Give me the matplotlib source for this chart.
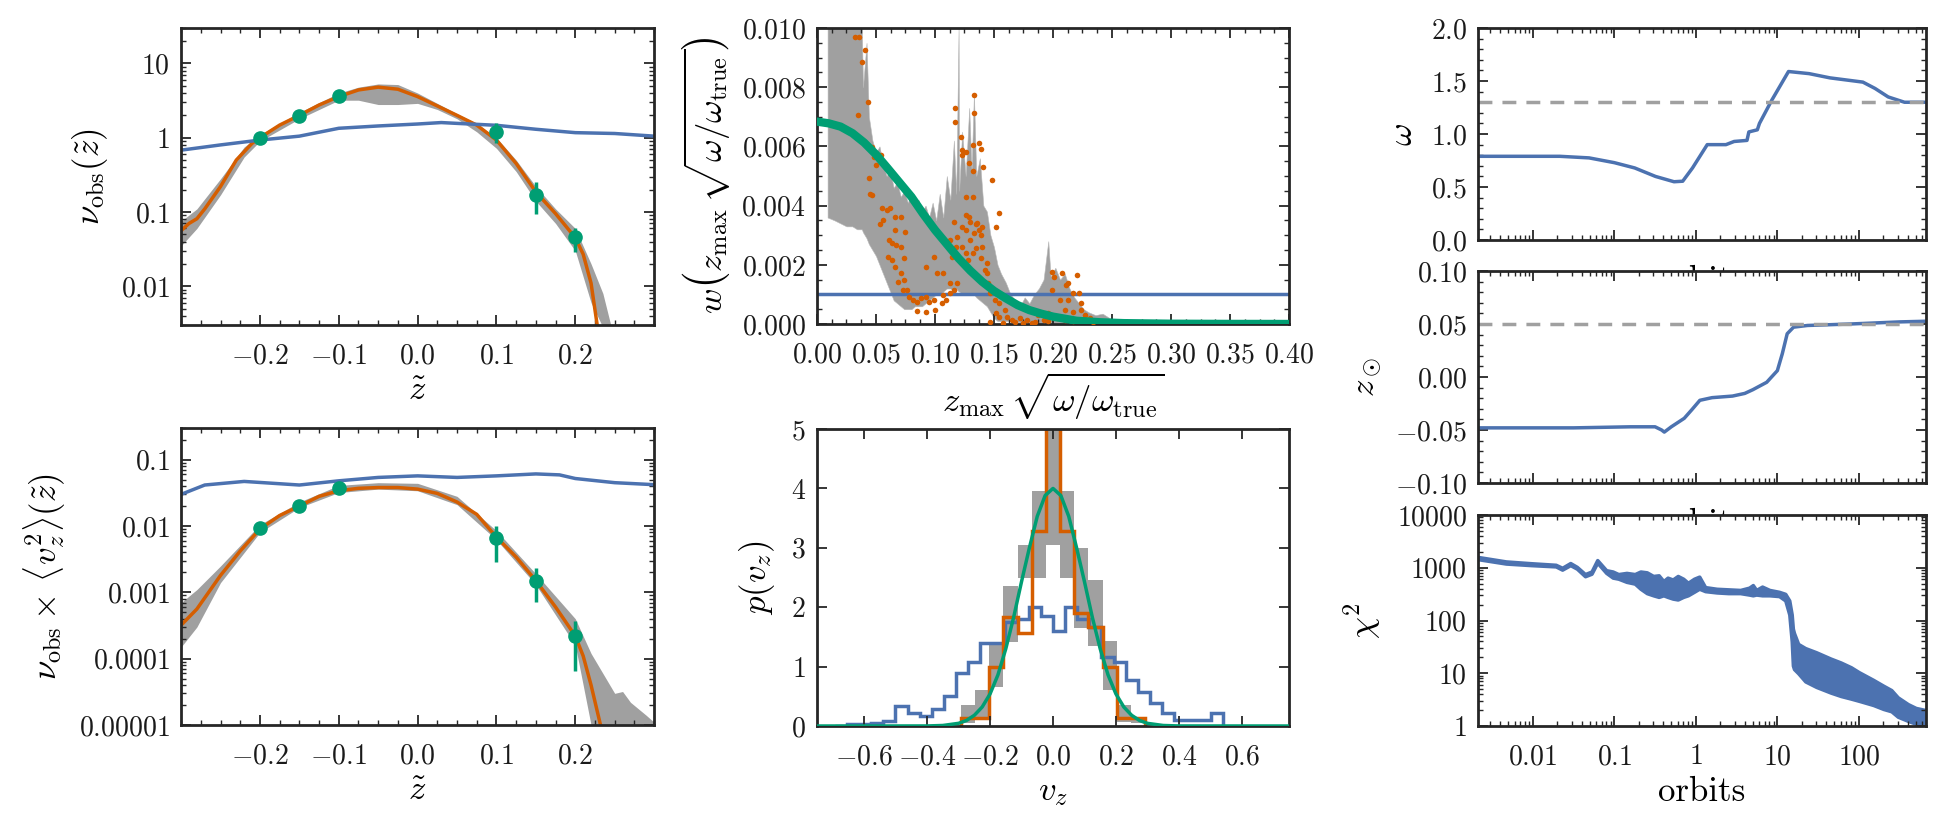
import numpy as np
import matplotlib
matplotlib.use('Agg')
import matplotlib.pyplot as plt
from matplotlib.ticker import (MultipleLocator, AutoMinorLocator, LogLocator,
                               NullFormatter, FuncFormatter)

plt.rcParams['font.family'] = 'serif'
plt.rcParams['font.serif'] = ['cmr10', 'DejaVu Serif']
plt.rcParams['mathtext.fontset'] = 'cm'
plt.rcParams['axes.unicode_minus'] = False
plt.rcParams['axes.formatter.use_mathtext'] = True

BLUE = '#4C72B0'
ORANGE = '#D55E00'
GREEN = '#009E73'
GRAY = '#A0A0A0'
INK = '#262626'

# ---- panel 1: density nu_obs(z) ----
dens_z = [-0.30, -0.29, -0.28, -0.27, -0.25, -0.23, -0.21, -0.20, -0.175, -0.15, -0.125, -0.10,
          -0.075, -0.05, -0.025, 0.0, 0.025, 0.05, 0.075, 0.10, 0.125, 0.15, 0.175, 0.20,
          0.21, 0.22, 0.228]
dens_fit = [0.056, 0.07, 0.081, 0.11, 0.22, 0.5, 0.84, 1.0, 1.48, 2.0, 2.76, 3.58,
            4.4, 4.8, 4.5, 3.58, 2.68, 2.0, 1.48, 0.93, 0.45, 0.186, 0.095, 0.045,
            0.027, 0.011, 0.0029]
dens_band_z = [-0.30, -0.28, -0.25, -0.22, -0.20, -0.15, -0.10, -0.075, -0.05, -0.025, 0.0, 0.025,
               0.05, 0.075, 0.10, 0.125, 0.15, 0.175, 0.20, 0.22, 0.235, 0.245]
dens_band_lo = [0.035, 0.06, 0.17, 0.55, 0.9, 1.8, 3.2, 3.2, 2.8, 2.8, 2.9, 2.4,
                1.8, 1.2, 0.72, 0.35, 0.14, 0.07, 0.03, 0.006, 0.0028, 0.0028]
dens_band_hi = [0.075, 0.11, 0.28, 0.75, 1.1, 2.2, 4.0, 4.8, 5.3, 5.2, 4.0, 2.9,
                2.1, 1.55, 1.0, 0.5, 0.22, 0.11, 0.06, 0.02, 0.008, 0.003]
dens_init_z = [-0.3, -0.25, -0.2, -0.15, -0.1, -0.05, 0.0, 0.03, 0.05, 0.1, 0.15, 0.2, 0.25, 0.3]
dens_init = [0.68, 0.8, 0.93, 1.05, 1.34, 1.44, 1.53, 1.6, 1.56, 1.47, 1.3, 1.17, 1.14, 1.05]
dens_obs_z = [-0.2, -0.15, -0.1, 0.1, 0.15, 0.2]
dens_obs = [1.0, 1.95, 3.7, 1.2, 0.17, 0.046]
dens_obs_lo = [0.95, 1.85, 3.5, 0.84, 0.093, 0.029]
dens_obs_hi = [1.05, 2.05, 3.9, 1.56, 0.25, 0.061]

# ---- panel 2: nu_obs * <v_z^2> ----
v2_z = [-0.30, -0.28, -0.25, -0.225, -0.20, -0.175, -0.15, -0.125, -0.10, -0.075, -0.05, -0.025,
        0.0, 0.025, 0.05, 0.075, 0.10, 0.125, 0.15, 0.175, 0.20, 0.21, 0.22, 0.232]
v2_fit = [0.00032, 0.00056, 0.0018, 0.0042, 0.009, 0.0144, 0.02, 0.028, 0.034, 0.037, 0.038, 0.038,
          0.036, 0.031, 0.023, 0.015, 0.0068, 0.0034, 0.0015, 0.0006, 0.00022, 0.00011, 0.00004, 0.00001]
v2_band_z = [-0.30, -0.28, -0.25, -0.20, -0.15, -0.10, -0.05, 0.0, 0.05, 0.10, 0.15, 0.20,
             0.22, 0.25, 0.26, 0.27, 0.29, 0.30]
v2_band_lo = [0.00015, 0.0003, 0.0014, 0.008, 0.019, 0.032, 0.036, 0.034, 0.021, 0.0062, 0.0013, 0.00016,
              0.00001, 0.00001, 0.00001, 0.00001, 0.00001, 0.00001]
v2_band_hi = [0.0007, 0.0011, 0.0025, 0.0105, 0.023, 0.041, 0.045, 0.044, 0.028, 0.0085, 0.0019, 0.0004,
              0.00012, 0.00003, 0.000032, 0.000022, 0.000014, 0.000011]
v2_init_z = [-0.3, -0.27, -0.22, -0.15, -0.1, -0.05, 0.0, 0.05, 0.1, 0.15, 0.18, 0.2, 0.25, 0.3]
v2_init = [0.030, 0.0415, 0.047, 0.0415, 0.048, 0.054, 0.057, 0.054, 0.057, 0.061, 0.059, 0.052, 0.045, 0.042]
v2_obs_z = [-0.2, -0.15, -0.1, 0.1, 0.15, 0.2]
v2_obs = [0.0092, 0.020, 0.037, 0.0065, 0.0015, 0.00022]
v2_obs_lo = [0.0085, 0.018, 0.034, 0.0029, 0.00072, 0.000066]
v2_obs_hi = [0.0099, 0.022, 0.040, 0.010, 0.0023, 0.00037]

# ---- panel 3: weights w(z_max sqrt(omega/omega_true)) ----
w_band_x = [0.009, 0.015, 0.020, 0.025, 0.030, 0.034, 0.038, 0.039, 0.042, 0.044, 0.047, 0.050,
            0.053, 0.056, 0.059, 0.062, 0.065, 0.068, 0.071, 0.074, 0.077, 0.080, 0.083, 0.086,
            0.089, 0.092, 0.095, 0.098, 0.101, 0.104, 0.107, 0.110, 0.113, 0.116, 0.118, 0.120,
            0.1205, 0.123, 0.126, 0.129, 0.131, 0.133, 0.135, 0.138, 0.141, 0.144, 0.147, 0.150,
            0.153, 0.156, 0.160, 0.164, 0.168, 0.172, 0.176, 0.180, 0.184, 0.188, 0.192, 0.196,
            0.198, 0.202, 0.206, 0.210, 0.214, 0.218, 0.222, 0.226, 0.230, 0.236, 0.242, 0.248,
            0.255, 0.265]
w_band_lo = [3.6, 3.5, 3.4, 3.3, 3.3, 3.2, 3.2, 3.1, 2.9, 2.7, 2.5, 2.3,
             2.0, 1.7, 1.4, 1.1, 0.8, 0.7, 0.6, 0.5, 0.5, 0.5, 0.6, 0.6,
             0.6, 0.7, 0.8, 0.9, 1.0, 1.0, 1.1, 1.2, 1.2, 1.1, 1.2, 1.1,
             1.1, 1.0, 1.0, 1.0, 1.0, 1.0, 0.9, 0.8, 0.7, 0.6, 0.4, 0.2,
             0.1, 0.1, 0.1, 0.1, 0.1, 0.05, 0.05, 0.05, 0.05, 0.05, 0.05, 0.05,
             0.05, 0.05, 0.05, 0.05, 0.05, 0.05, 0.05, 0.02, 0.02, 0.0, 0.0, 0.0,
             0.0, 0.0]
w_band_hi = [10.5, 10.5, 10.5, 10.5, 10.5, 10.5, 10.0, 8.0, 9.5, 7.0, 6.2, 5.8,
             6.0, 5.4, 5.0, 5.2, 4.6, 4.8, 4.3, 4.5, 4.1, 4.4, 3.9, 4.2,
             3.8, 4.0, 3.6, 4.1, 3.5, 4.4, 3.6, 5.0, 4.2, 6.2, 4.4, 10.0,
             4.5, 6.5, 5.0, 7.3, 5.2, 7.8, 5.0, 5.6, 4.0, 3.8, 3.0, 2.6,
             2.0, 1.7, 1.4, 1.0, 0.8, 0.6, 0.9, 0.7, 1.0, 1.2, 1.5, 2.8,
             1.6, 1.9, 1.5, 1.7, 1.2, 0.9, 0.7, 0.5, 0.4, 0.3, 0.35, 0.2,
             0.1, 0.0]
w_true_x = [0.0, 0.01, 0.02, 0.03, 0.04, 0.05, 0.06, 0.07, 0.08, 0.09, 0.10, 0.11, 0.12, 0.13,
            0.14, 0.15, 0.16, 0.17, 0.18, 0.19, 0.20, 0.22, 0.24, 0.26, 0.28, 0.30, 0.35, 0.40]
w_true = [6.84, 6.78, 6.67, 6.45, 6.13, 5.73, 5.26, 4.78, 4.30, 3.72, 3.18, 2.70, 2.22, 1.80,
          1.43, 1.12, 0.87, 0.64, 0.47, 0.35, 0.25, 0.11, 0.06, 0.03, 0.02, 0.01, 0.004, 0.002]
w_init = 1.0
w_pts_x = [0.032, 0.036, 0.041, 0.038, 0.043, 0.035, 0.047, 0.048, 0.052, 0.050, 0.054, 0.044,
           0.045, 0.047, 0.055, 0.059, 0.062, 0.056, 0.053, 0.066, 0.071, 0.066, 0.075, 0.061,
           0.064, 0.067, 0.060, 0.064, 0.071, 0.074, 0.066, 0.071, 0.069, 0.074, 0.073, 0.076,
           0.078, 0.081, 0.085, 0.088, 0.092, 0.095, 0.099, 0.092, 0.085, 0.100, 0.106, 0.109,
           0.107, 0.113, 0.116, 0.113, 0.119, 0.102, 0.107, 0.092, 0.099, 0.114, 0.118, 0.119,
           0.123, 0.126, 0.130, 0.132, 0.123, 0.126, 0.128, 0.135, 0.139, 0.140, 0.142, 0.144,
           0.137, 0.133, 0.135, 0.129, 0.126, 0.130, 0.136, 0.140, 0.139, 0.132, 0.126, 0.132,
           0.129, 0.123, 0.123, 0.126, 0.132, 0.137, 0.139, 0.141, 0.148, 0.154, 0.152, 0.117,
           0.117, 0.133, 0.133, 0.122, 0.116, 0.113, 0.144, 0.145, 0.147, 0.151, 0.154, 0.152,
           0.159, 0.161, 0.165, 0.168, 0.172, 0.178, 0.182, 0.185, 0.192, 0.196, 0.199, 0.201,
           0.199, 0.208, 0.211, 0.213, 0.220, 0.206, 0.213, 0.217, 0.222, 0.224, 0.210, 0.217,
           0.224, 0.227, 0.231, 0.203, 0.192, 0.187, 0.154, 0.147, 0.158, 0.210, 0.196, 0.175,
           0.217, 0.234]
w_pts_y = [9.71, 9.71, 9.26, 8.86, 7.51, 7.06, 5.99, 5.65, 5.65, 5.37, 5.71, 4.95,
           4.39, 4.36, 3.91, 3.85, 3.91, 3.51, 3.38, 3.63, 3.63, 3.18, 3.12, 2.84,
           2.73, 2.67, 2.27, 2.16, 2.61, 2.22, 1.94, 1.71, 1.43, 1.49, 1.15, 1.15,
           0.92, 0.81, 0.75, 0.87, 0.92, 0.75, 0.81, 0.42, 0.45, 0.47, 0.70, 0.81,
           0.98, 1.04, 1.15, 1.37, 1.37, 1.71, 1.71, 1.94, 2.27, 2.27, 2.61, 2.95,
           3.29, 3.18, 2.84, 2.39, 2.61, 2.39, 2.16, 2.56, 2.22, 2.61, 1.82, 2.05,
           3.18, 3.06, 3.38, 3.63, 3.68, 3.46, 3.40, 3.29, 3.00, 4.30, 4.30, 5.18,
           5.43, 5.71, 5.88, 5.82, 6.05, 6.10, 5.93, 5.32, 4.86, 3.76, 3.29, 6.84,
           7.29, 7.74, 7.14, 6.31, 3.46, 2.84, 1.71, 1.37, 1.04, 0.81, 0.70, 0.36,
           0.47, 0.25, 0.14, 0.08, 0.19, 0.14, 0.02, 0.08, 0.14, 0.36, 1.15, 1.60,
           1.77, 1.71, 1.32, 1.37, 1.66, 0.81, 0.81, 1.04, 1.04, 0.70, 0.47, 0.42,
           0.47, 0.30, 0.19, 0.19, 0.30, 0.30, 0.25, 0.08, 0.05, 0.14, 0.11, 0.05,
           0.10, 0.07]

# ---- panel 4: p(v_z) histograms ----
vz_edges = [-0.2925, -0.2475, -0.2025, -0.1575, -0.1125, -0.0675, -0.0225, 0.0225, 0.0675,
            0.1125, 0.1575, 0.2025, 0.2475, 0.2925]
vz_data = [0.13, 0.13, 1.0, 1.84, 1.57, 3.29, 5.6, 3.29, 1.9, 1.66, 1.0, 0.13, 0.13]
vz_band_lo = [0.05, 0.1, 0.66, 1.42, 2.5, 2.5, 3.05, 2.5, 1.65, 1.35, 0.6, 0.07, 0.05]
vz_band_hi = [0.35, 0.6, 1.42, 2.35, 3.05, 3.95, 5.6, 3.95, 3.0, 2.45, 1.43, 0.35, 0.12]
vz_init_edges = [-0.693, -0.6545, -0.616, -0.5775, -0.539, -0.5005, -0.462, -0.4235, -0.385,
                 -0.3465, -0.308, -0.2695, -0.231, -0.1925, -0.154, -0.1155, -0.077, -0.0385,
                 0.0, 0.0385, 0.077, 0.1155, 0.154, 0.1925, 0.231, 0.2695, 0.308, 0.3465,
                 0.385, 0.4235, 0.462, 0.5005, 0.539]
vz_init = [0.0, 0.03, 0.03, 0.05, 0.08, 0.33, 0.22, 0.17, 0.28, 0.5, 0.9, 1.08, 1.39, 1.39,
           1.75, 1.8, 2.0, 1.85, 1.6, 2.0, 1.8, 1.67, 1.16, 1.08, 0.77, 0.57, 0.38, 0.22,
           0.10, 0.10, 0.10, 0.22]
vz_true_x = [-0.75, -0.4, -0.35, -0.3, -0.275, -0.25, -0.225, -0.2, -0.175, -0.15, -0.125, -0.1,
             -0.075, -0.05, -0.025, 0.0, 0.025, 0.05, 0.075, 0.1, 0.125, 0.15, 0.175, 0.2,
             0.225, 0.25, 0.275, 0.3, 0.35, 0.4, 0.75]
vz_true = [0.0, 0.001, 0.009, 0.045, 0.093, 0.18, 0.32, 0.54, 0.86, 1.3, 1.83, 2.43,
           3.0, 3.53, 3.88, 4.0, 3.88, 3.53, 3.0, 2.43, 1.83, 1.3, 0.86, 0.54,
           0.32, 0.18, 0.093, 0.045, 0.009, 0.001, 0.0]

# ---- right column: convergence vs orbits ----
om_t = [0.00214, 0.0214, 0.049, 0.1, 0.178, 0.32, 0.54, 0.69, 0.91, 1.38, 2.34, 2.95, 4.24,
        4.47, 5.68, 6.03, 8.55, 13.7, 24.5, 44.2, 112, 158, 229, 363, 667]
om = [0.79, 0.79, 0.775, 0.73, 0.68, 0.60, 0.55, 0.555, 0.68, 0.90, 0.90, 0.93, 0.94,
      1.02, 1.04, 1.10, 1.32, 1.59, 1.57, 1.53, 1.49, 1.43, 1.35, 1.30, 1.30]
om_true = 1.3
zs_t = [0.00214, 0.0316, 0.158, 0.316, 0.38, 0.41, 0.50, 0.72, 0.89, 1.12, 1.58, 2.82, 3.98,
        5.0, 7.4, 10.0, 11.5, 13.2, 15.8, 23.4, 79, 324, 667]
zs = [-0.048, -0.048, -0.047, -0.047, -0.050, -0.052, -0.047, -0.039, -0.031, -0.022, -0.0195,
      -0.018, -0.0155, -0.012, -0.005, 0.006, 0.022, 0.0408, 0.047, 0.0486, 0.050, 0.052, 0.0526]
zs_true = 0.05
chi_t = [0.00214, 0.00468, 0.00955, 0.0191, 0.0229, 0.0288, 0.0347, 0.0437, 0.0525, 0.0617,
         0.0794, 0.0955, 0.112, 0.141, 0.178, 0.209, 0.25, 0.30, 0.35, 0.40, 0.45, 0.52, 0.60,
         0.70, 0.80, 0.95, 1.1, 1.3, 1.8, 2.5, 3.5, 4.5, 5.0, 5.5, 6.5, 8.0, 10.5, 12.5, 14,
         15, 15.5, 16, 18, 22, 30, 45, 60, 80, 100, 150, 200, 250, 300, 400, 500, 667]
chi_lo = [1450, 1200, 1120, 1060, 920, 1120, 960, 690, 770, 1250,
          800, 650, 620, 540, 500, 400, 330, 300, 280, 300, 280, 260, 250,
          280, 300, 350, 400, 360, 340, 330, 330, 310, 300, 310, 300, 300, 290, 240, 130,
          40, 14, 12, 10, 7, 5.5, 4.3, 3.7, 3.3, 3.0, 2.5, 2.1, 1.9, 1.5, 1.25, 1.1, 1.02]
chi_hi = [1600, 1320, 1220, 1140, 1000, 1230, 1040, 760, 850, 1400,
          900, 850, 760, 800, 760, 850, 820, 700, 720, 560, 650, 600, 700,
          620, 520, 620, 680, 430, 400, 390, 380, 420, 470, 380, 440, 380, 350, 320, 240,
          130, 70, 58, 36, 30, 25, 19, 16, 13, 10.5, 7.5, 5.8, 4.8, 3.5, 2.6, 2.2, 2.0]

fig = plt.figure(figsize=(19.41, 8.30), dpi=100)
TICK_FS = 20
LABEL_FS = 25


def style(ax, minor=True):
    for sp in ax.spines.values():
        sp.set_linewidth(2.0)
        sp.set_color(INK)
    ax.tick_params(which='both', direction='in', top=True, right=True, color=INK,
                   labelsize=TICK_FS, labelcolor='#1a1a1a')
    ax.tick_params(which='major', length=7, width=1.3)
    ax.tick_params(which='minor', length=3.5, width=1.0)
    ax.tick_params(axis='x', which='major', pad=13)
    ax.tick_params(axis='y', which='major', pad=8)


def fmt(spec):
    return FuncFormatter(lambda v, p: '$' + (spec % (v + 0.0 if abs(v) > 1e-12 else 0.0)) + '$')


def log_y(ax, vals, labels):
    ax.set_yscale('log')
    ax.set_yticks(vals, labels=['$%s$' % s for s in labels])
    ax.yaxis.set_minor_locator(LogLocator(base=10, subs=np.arange(2, 10), numticks=50))
    ax.yaxis.set_minor_formatter(NullFormatter())


def ztilde_x(ax):
    ax.set_xlim(-0.3, 0.3)
    ax.xaxis.set_major_locator(plt.FixedLocator([-0.2, -0.1, 0.0, 0.1, 0.2]))
    ax.xaxis.set_major_formatter(fmt('%.1f'))
    ax.xaxis.set_minor_locator(MultipleLocator(0.025))
    ax.set_xlabel(r'$\tilde{z}$', fontsize=LABEL_FS, labelpad=4)


# left column
ax1 = fig.add_axes([0.0933, 0.6084, 0.2437, 0.3578])
ax1.fill_between(dens_band_z, dens_band_lo, dens_band_hi, color=GRAY, lw=0)
ax1.plot(dens_z, dens_fit, color=ORANGE, lw=2.5)
ax1.plot(dens_init_z, dens_init, color=BLUE, lw=2.5)
d = np.array(dens_obs)
ax1.errorbar(dens_obs_z, d, yerr=[d - np.array(dens_obs_lo), np.array(dens_obs_hi) - d],
             fmt='o', color=GREEN, ms=9.5, elinewidth=2.5, capsize=0, zorder=5)
log_y(ax1, [0.01, 0.1, 1, 10], ['0.01', '0.1', '1', '10'])
ax1.set_ylim(0.003, 30)
ztilde_x(ax1)
ax1.set_ylabel(r'$\nu_\mathrm{obs}(\tilde{z})$', fontsize=LABEL_FS, labelpad=8)
style(ax1)

ax2 = fig.add_axes([0.0933, 0.1265, 0.2437, 0.3578])
ax2.fill_between(v2_band_z, v2_band_lo, v2_band_hi, color=GRAY, lw=0)
ax2.plot(v2_z, v2_fit, color=ORANGE, lw=2.5)
ax2.plot(v2_init_z, v2_init, color=BLUE, lw=2.5)
d = np.array(v2_obs)
ax2.errorbar(v2_obs_z, d, yerr=[d - np.array(v2_obs_lo), np.array(v2_obs_hi) - d],
             fmt='o', color=GREEN, ms=9.5, elinewidth=2.5, capsize=0, zorder=5)
log_y(ax2, [1e-5, 1e-4, 1e-3, 1e-2, 1e-1], ['0.00001', '0.0001', '0.001', '0.01', '0.1'])
ax2.set_ylim(1e-5, 0.3)
ztilde_x(ax2)
ax2.set_ylabel(r'$\nu_\mathrm{obs}\times\,\langle v_z^2\rangle(\tilde{z})$', fontsize=LABEL_FS, labelpad=8)
style(ax2)

# middle column
ax3 = fig.add_axes([0.4209, 0.6096, 0.2432, 0.3566])
ax3.fill_between(w_band_x, np.array(w_band_lo) * 1e-3, np.array(w_band_hi) * 1e-3,
                 color=GRAY, lw=0.4, edgecolor='#b8b8b8')
ax3.axhline(w_init * 1e-3, color=BLUE, lw=2.5)
ax3.scatter(w_pts_x, np.array(w_pts_y) * 1e-3, s=16, color=ORANGE, lw=0, zorder=3)
ax3.plot(w_true_x, np.array(w_true) * 1e-3, color=GREEN, lw=6, zorder=4, solid_capstyle='round')
ax3.set_xlim(0, 0.4)
ax3.set_ylim(0, 0.01)
ax3.xaxis.set_major_locator(MultipleLocator(0.05))
ax3.xaxis.set_major_formatter(fmt('%.2f'))
ax3.xaxis.set_minor_locator(AutoMinorLocator(4))
ax3.yaxis.set_major_locator(MultipleLocator(0.002))
ax3.yaxis.set_major_formatter(fmt('%.3f'))
ax3.yaxis.set_minor_locator(AutoMinorLocator(4))
ax3.set_xlabel(r'$z_\mathrm{max}\,\sqrt{\omega/\omega_\mathrm{true}}$', fontsize=LABEL_FS, labelpad=2)
ax3.set_ylabel(r'$w\left(z_\mathrm{max}\,\sqrt{\omega/\omega_\mathrm{true}}\right)$',
               fontsize=LABEL_FS, labelpad=6)
style(ax3)

ax4 = fig.add_axes([0.4209, 0.1253, 0.2432, 0.3578])
ax4.stairs(vz_band_hi, vz_edges, baseline=vz_band_lo, fill=True, color=GRAY, lw=0)
ax4.stairs(vz_init, vz_init_edges, color=BLUE, lw=2.5)
ax4.stairs(vz_data, vz_edges, color=ORANGE, lw=2.5)
ax4.plot(vz_true_x, vz_true, color=GREEN, lw=2.5, zorder=4)
ax4.set_xlim(-0.75, 0.75)
ax4.set_ylim(0, 5)
ax4.xaxis.set_major_locator(MultipleLocator(0.2))
ax4.xaxis.set_major_formatter(fmt('%.1f'))
ax4.yaxis.set_major_locator(MultipleLocator(1))
ax4.yaxis.set_major_formatter(fmt('%d'))
ax4.set_xlabel(r'$v_z$', fontsize=LABEL_FS, labelpad=4)
ax4.set_ylabel(r'$p(v_z)$', fontsize=LABEL_FS, labelpad=10)
style(ax4)


# right column
def orbit_x(ax, show):
    ax.set_xscale('log')
    ax.set_xlim(0.00213, 667)
    ax.set_xticks([0.01, 0.1, 1, 10, 100], labels=['$0.01$', '$0.1$', '$1$', '$10$', '$100$'])
    ax.xaxis.set_minor_locator(LogLocator(base=10, subs=np.arange(2, 10), numticks=50))
    ax.xaxis.set_minor_formatter(NullFormatter())
    if show:
        ax.set_xlabel('orbits', fontsize=LABEL_FS, labelpad=4)
    else:
        ax.tick_params(axis='x', labelbottom=False)
        ax.set_xlabel('orbits', fontsize=LABEL_FS, labelpad=15)


ax5 = fig.add_axes([0.7615, 0.7108, 0.2308, 0.2554])
ax5.plot(om_t, om, color=BLUE, lw=2.5)
ax5.axhline(om_true, color=GRAY, lw=2.5, dashes=(4, 2.9))
ax5.set_ylim(0, 2)
ax5.yaxis.set_major_locator(MultipleLocator(0.5))
ax5.yaxis.set_major_formatter(fmt('%.1f'))
ax5.yaxis.set_minor_locator(AutoMinorLocator(5))
ax5.set_ylabel(r'$\omega$', fontsize=LABEL_FS, labelpad=8)
style(ax5)
orbit_x(ax5, False)

ax6 = fig.add_axes([0.7615, 0.4181, 0.2308, 0.2554])
ax6.plot(zs_t, zs, color=BLUE, lw=2.5)
ax6.axhline(zs_true, color=GRAY, lw=2.5, dashes=(4, 2.9))
ax6.set_ylim(-0.1, 0.1)
ax6.yaxis.set_major_locator(MultipleLocator(0.05))
ax6.yaxis.set_major_formatter(fmt('%.2f'))
ax6.yaxis.set_minor_locator(AutoMinorLocator(5))
ax6.set_ylabel(r'$z_\odot$', fontsize=LABEL_FS, labelpad=8)
style(ax6)
orbit_x(ax6, False)

ax7 = fig.add_axes([0.7615, 0.1253, 0.2308, 0.2542])
ax7.fill_between(chi_t, chi_lo, chi_hi, color=BLUE, lw=2.5, edgecolor=BLUE)
log_y(ax7, [1, 10, 100, 1000, 10000], ['1', '10', '100', '1000', '10000'])
ax7.set_ylim(1, 10000)
ax7.set_ylabel(r'$\chi^2$', fontsize=LABEL_FS, labelpad=10)
style(ax7)
orbit_x(ax7, True)

fig.savefig('out.png', dpi=100, facecolor='white')
